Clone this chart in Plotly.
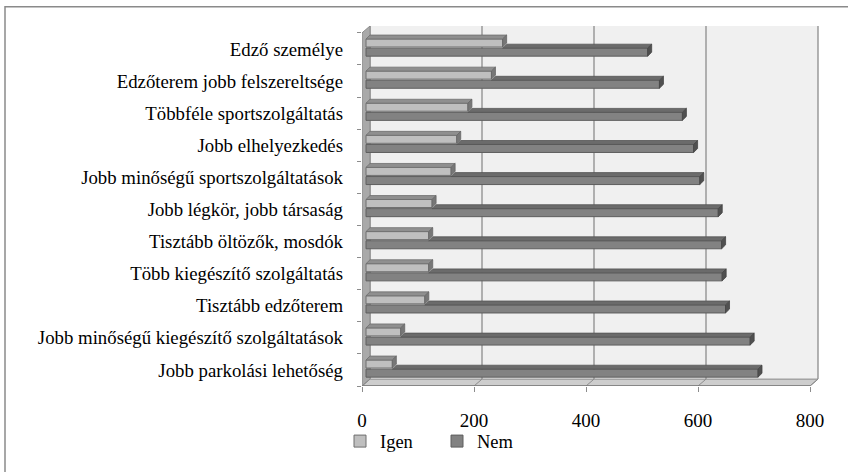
import plotly.graph_objects as go

# Survey answers: what would make respondents switch gym (Igen = yes, Nem = no)
categories = [
    "Edző személye",
    "Edzőterem jobb felszereltsége",
    "Többféle sportszolgáltatás",
    "Jobb elhelyezkedés",
    "Jobb minőségű sportszolgáltatások",
    "Jobb légkör, jobb társaság",
    "Tisztább öltözők, mosdók",
    "Több kiegészítő szolgáltatás",
    "Tisztább edzőterem",
    "Jobb minőségű kiegészítő szolgáltatások",
    "Jobb parkolási lehetőség",
]
igen = [244, 224, 182, 162, 152, 118, 112, 112, 105, 62, 47]
nem = [503, 524, 565, 585, 596, 629, 635, 636, 642, 686, 700]
x_ticks = [0, 200, 400, 600, 800]

# ---- pseudo-3D geometry (pixels) ----
W, H = 848, 472
PLOT_L, PLOT_R = 362, 820
BAND_PX = 32.64
FRONT_BOTTOM = 392
DEPTH_PX_X, DEPTH_PX_Y = 8, 7          # front edge -> back wall offset
PLOT_T = FRONT_BOTTOM - len(categories) * BAND_PX - DEPTH_PX_Y
PX_PER_UNIT = 0.56

def ux(px):  # horizontal pixels -> value units
    return px / PX_PER_UNIT

def uy(px):  # vertical pixels -> category units
    return px / BAND_PX

x_range = [0, ux(PLOT_R - PLOT_L)]
y_range = [-0.5, len(categories) - 0.5 + uy(DEPTH_PX_Y)]
n = len(categories)
ypos = [n - 1 - k for k in range(n)]      # first category on top

BACK_DX, BACK_DY = ux(DEPTH_PX_X), uy(DEPTH_PX_Y)
BAR_BASE = ux(4)                          # bars sit half way into the depth
BAR_DX, BAR_DY = ux(4), uy(4)

IGEN_OFF, NEM_OFF, BAR_W = 0.06, -0.225, 0.25

FONT = "Times New Roman, serif"
GRID = "#8c8c8c"

fig = go.Figure()

# front faces of the bars
fig.add_trace(go.Bar(
    name="Igen", y=ypos, x=igen, base=BAR_BASE, orientation="h",
    offset=IGEN_OFF, width=BAR_W,
    marker=dict(color="#bfbfbf", line=dict(color="#6e6e6e", width=1)),
    hoverinfo="skip"))
fig.add_trace(go.Bar(
    name="Nem", y=ypos, x=nem, base=BAR_BASE, orientation="h",
    offset=NEM_OFF, width=BAR_W,
    marker=dict(color="#828282", line=dict(color="#5e5e5e", width=1)),
    hoverinfo="skip"))


def poly_trace(xs, ys, fill, edge):
    return go.Scatter(x=xs, y=ys, mode="lines", fill="toself", fillcolor=fill,
                      line=dict(color=edge, width=0.8), showlegend=False,
                      hoverinfo="skip")


def top_faces(vals, off, start_vals=None):
    xs, ys = [], []
    for i, (y, v) in enumerate(zip(ypos, vals)):
        t = y + off + BAR_W
        x0 = BAR_BASE + (start_vals[i] if start_vals else 0)
        x1 = BAR_BASE + v
        xs += [x0, x1, x1 + BAR_DX, x0 + BAR_DX, x0, None]
        ys += [t, t, t + BAR_DY, t + BAR_DY, t, None]
    return xs, ys


def side_faces(vals, off):
    xs, ys = [], []
    for y, v in zip(ypos, vals):
        b, t = y + off, y + off + BAR_W
        x1 = BAR_BASE + v
        xs += [x1, x1, x1 + BAR_DX, x1 + BAR_DX, x1, None]
        ys += [b, t, t + BAR_DY, b + BAR_DY, b, None]
    return xs, ys


# depth faces: "Nem" first, its top partly hidden behind "Igen"
fig.add_trace(poly_trace(*top_faces(nem, NEM_OFF, start_vals=igen), "#6b6b6b", "#555555"))
fig.add_trace(poly_trace(*side_faces(nem, NEM_OFF), "#505050", "#454545"))
fig.add_trace(poly_trace(*top_faces(igen, IGEN_OFF), "#8f8f8f", "#6e6e6e"))
fig.add_trace(poly_trace(*side_faces(igen, IGEN_OFF), "#777777", "#666666"))

# ---- walls, floor and gridlines ----
y_floor_front, y_floor_back, y_top = -0.5, -0.5 + BACK_DY, y_range[1]
x_back0, x_back800 = BACK_DX, x_ticks[-1] + BACK_DX
shapes = [
    dict(type="rect", x0=x_back0, x1=x_back800, y0=y_floor_back, y1=y_top,
         fillcolor="#f0f0f0", line=dict(width=0), layer="below"),
]
for v in x_ticks:
    shapes.append(dict(type="line", x0=v + BACK_DX, x1=v + BACK_DX,
                       y0=y_floor_back, y1=y_top,
                       line=dict(color=GRID, width=1.3), layer="below"))
shapes.append(dict(
    type="path",
    path=f"M0,{y_floor_front} L{BACK_DX},{y_floor_back} L{BACK_DX},{y_top} "
         f"L0,{n - 0.5} Z",
    fillcolor="#a9a9a9", line=dict(color="#8a8a8a", width=1), layer="below"))
shapes.append(dict(
    type="path",
    path=f"M0,{y_floor_front} L{x_ticks[-1]},{y_floor_front} "
         f"L{x_back800},{y_floor_back} L{x_back0},{y_floor_back} Z",
    fillcolor="#cdcdcd", line=dict(color="#8a8a8a", width=1), layer="below"))
for v in x_ticks:
    shapes.append(dict(type="line", x0=v, x1=v + BACK_DX,
                       y0=y_floor_front, y1=y_floor_back,
                       line=dict(color=GRID, width=1), layer="below"))
shapes.append(dict(type="line", x0=0, x1=x_ticks[-1], y0=y_floor_front,
                   y1=y_floor_front, line=dict(color="#7a7a7a", width=1.5),
                   layer="below"))

# outer chart frame (left and top edges)
plot_w, plot_h = PLOT_R - PLOT_L, FRONT_BOTTOM - PLOT_T
fx = (5 - PLOT_L) / plot_w
fy = (FRONT_BOTTOM - 6.5) / plot_h
shapes.append(dict(type="path", xref="paper", yref="paper",
                   path=f"M{fx},-2 L{fx},{fy} L3,{fy}",
                   line=dict(color="#8a8a8a", width=1.5)))

fig.update_layout(
    width=W, height=H, autosize=False,
    margin=dict(l=PLOT_L, r=W - PLOT_R, t=PLOT_T, b=H - FRONT_BOTTOM, pad=0),
    paper_bgcolor="white", plot_bgcolor="white",
    barmode="overlay", shapes=shapes,
    font=dict(family=FONT, size=19, color="black"),
    xaxis=dict(range=x_range, tickvals=x_ticks, ticks="outside", ticklen=5,
               tickcolor=GRID, showgrid=False, zeroline=False, showline=False,
               ticklabelstandoff=12, fixedrange=True,
               tickfont=dict(family=FONT, size=19, color="black")),
    yaxis=dict(range=y_range, tickvals=ypos, ticktext=categories, ticks="",
               showgrid=False, zeroline=False, showline=False,
               ticklabelstandoff=18, fixedrange=True,
               tickfont=dict(family=FONT, size=18.8, color="black"),
               minor=dict(tickvals=[k - 0.5 for k in range(n + 1)],
                          ticks="outside", ticklen=4, tickcolor=GRID,
                          showgrid=False)),
    legend=dict(orientation="h", x=(340 - PLOT_L) / plot_w, xanchor="left",
                y=(FRONT_BOTTOM - 448.5) / plot_h, yanchor="middle",
                traceorder="normal", entrywidthmode="pixels", entrywidth=52,
                font=dict(family=FONT, size=18.5, color="black"),
                bgcolor="rgba(0,0,0,0)"),
    showlegend=True,
)

fig.write_html("out.html")
